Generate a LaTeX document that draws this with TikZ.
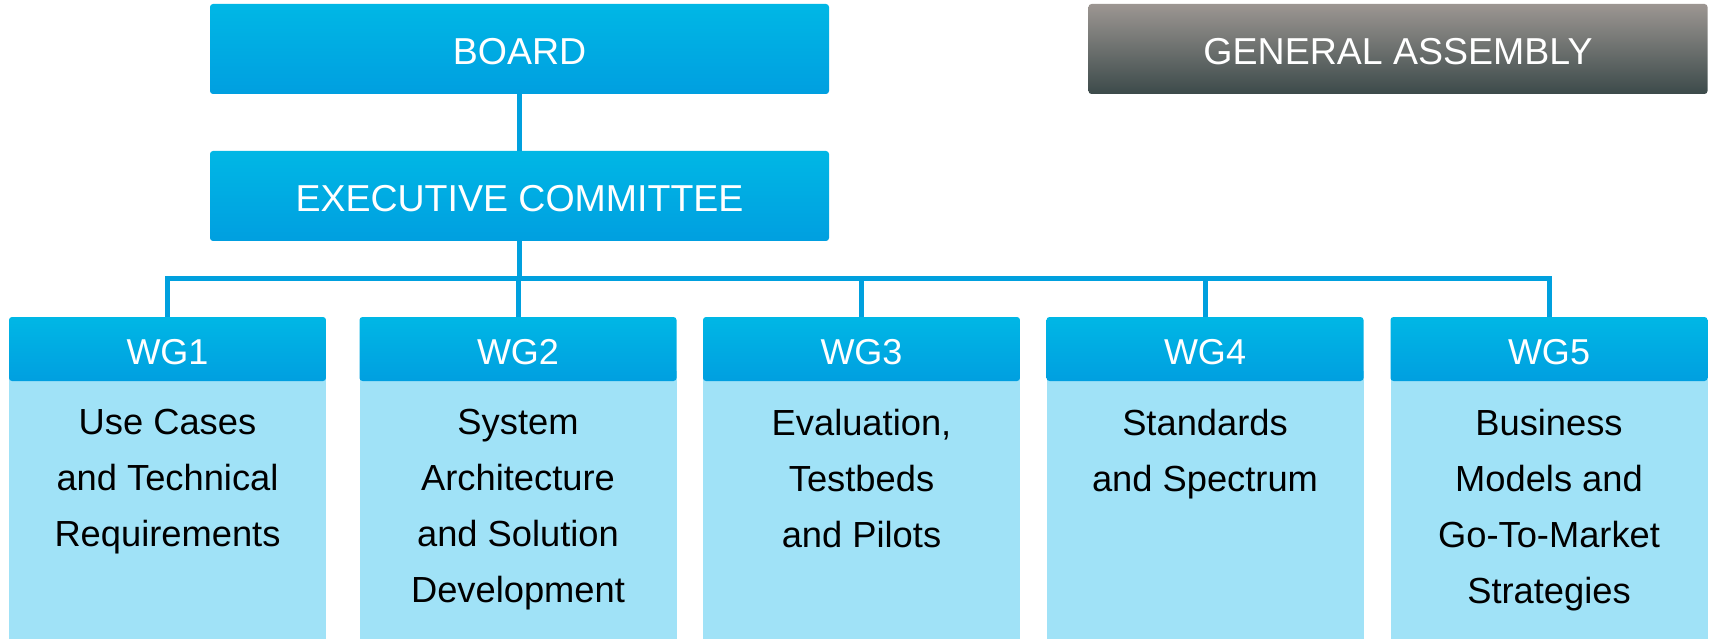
\documentclass[tikz,border=0pt]{standalone}
\usepackage{fontspec}
\setmainfont{Liberation Sans}
\definecolor{blueTop}{RGB}{0,183,229}
\definecolor{blueBot}{RGB}{0,159,224}
\definecolor{lightBody}{RGB}{160,226,247}
\definecolor{gaTop}{RGB}{156,150,146}
\definecolor{gaBot}{RGB}{60,74,74}
\definecolor{connBlue}{RGB}{0,160,222}
\begin{document}
\begin{tikzpicture}[x=1pt,y=-1pt,
  topbox/.style={rectangle, rounded corners=3pt, inner sep=0pt, minimum width=619pt, minimum height=90pt,
    top color=blueTop, bottom color=blueBot, text=white, font=\fontsize{37.5}{45}\selectfont,
    text height=31pt, text depth=0pt},
  gabox/.style={topbox, top color=gaTop, bottom color=gaBot},
  wghead/.style={rectangle, rounded corners=3pt, inner sep=0pt, minimum width=317pt, minimum height=64pt,
    top color=blueTop, bottom color=blueBot, text=white, font=\fontsize{36}{43}\selectfont,
    text height=30pt, text depth=0pt},
  wgbody/.style={rectangle, fill=lightBody, inner sep=0pt, minimum width=317pt, minimum height=268pt, anchor=north},
  wgtext/.style={anchor=north, inner sep=0pt, align=center, text=black, font=\fontsize{36.3}{56}\selectfont},
  conn/.style={draw=connBlue, line width=5pt, line join=miter}]
\useasboundingbox (0,0) rectangle (1709,639);

\node[topbox] (board) at (519.5,49) {BOARD};
\node[topbox] (exec) at (519.5,196) {EXECUTIVE COMMITTEE};
\node[gabox] (ga) at (1398,49) {GENERAL ASSEMBLY};

\foreach \i/\cx in {1/167.5,2/518,3/861.5,4/1205,5/1549}{
  \node[wgbody] (b\i) at (\cx,371) {};
  \node[wghead] (h\i) at (\cx,349) {WG\i};
}
\node[wgtext] (t1) at (167.5,409) {Use Cases\\and Technical\\Requirements};
\node[wgtext] (t2) at (518,409) {System\\Architecture\\and Solution\\Development};
\node[wgtext] (t3) at (861.5,409) {Evaluation,\\Testbeds\\and Pilots};
\node[wgtext] (t4) at (1205,409) {Standards\\and Spectrum};
\node[wgtext] (t5) at (1549,409) {Business\\Models and\\Go-To-Market\\Strategies};

\coordinate (bus) at (519.5,279);
\draw[conn] (board.south) -- (exec.north);
\draw[conn] (exec.south) -- (bus);
\draw[conn] (h1.north) |- (bus) -| (h5.north);
\foreach \i in {2,3,4}{
  \draw[conn] (h\i.north) -- (h\i.north |- bus);
}
\end{tikzpicture}
\end{document}
